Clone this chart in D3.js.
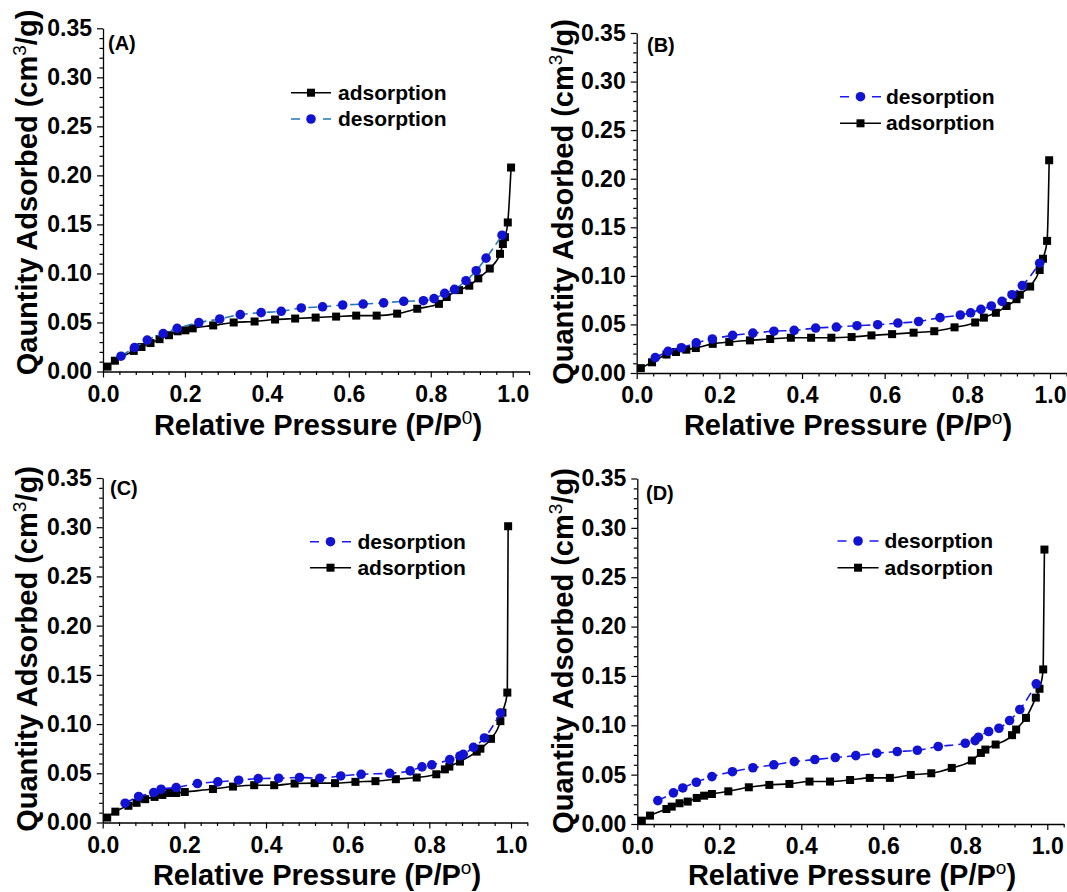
<!DOCTYPE html>
<html>
<head>
<meta charset="utf-8">
<script src="https://cdn.jsdelivr.net/npm/d3@7/dist/d3.min.js"></script>
<style>
  html, body { margin: 0; padding: 0; background: #fff; }
  svg { display: block; }
  text { font-family: "Liberation Sans", Arial, sans-serif; }
</style>
</head>
<body>
<svg id="chart" width="1067" height="892"></svg>
<script>
// ---------------- DATA ----------------
const xTicks = [0, 0.2, 0.4, 0.6, 0.8, 1.0];
const yTicks = [0, 0.05, 0.10, 0.15, 0.20, 0.25, 0.30, 0.35];
const panelLabels = ["(A)", "(B)", "(C)", "(D)"];
const yTitleA = "Qauntity Adsorbed (cm";
const yTitleOther = "Quantity Adsorbed (cm";
const seriesNames = ["adsorption", "desorption"];

const adsA = [[0.011,0.005],[0.029,0.011],[0.075,0.021],[0.094,0.025],[0.116,0.029],[0.138,0.033],[0.161,0.037],[0.182,0.041],[0.201,0.042],[0.219,0.044],[0.269,0.047],[0.319,0.050],[0.370,0.051],[0.420,0.053],[0.469,0.054],[0.519,0.055],[0.569,0.056],[0.618,0.057],[0.668,0.057],[0.718,0.059],[0.767,0.064],[0.820,0.069],[0.839,0.076],[0.869,0.083],[0.894,0.0875],[0.916,0.095],[0.944,0.105],[0.969,0.120],[0.976,0.130],[0.981,0.137],[0.988,0.152],[0.996,0.208]];
const desA = [[0.044,0.0156],[0.077,0.0244],[0.108,0.032],[0.147,0.0387],[0.181,0.044],[0.234,0.0499],[0.285,0.0536],[0.335,0.058],[0.386,0.060],[0.435,0.0614],[0.484,0.0648],[0.536,0.066],[0.585,0.0678],[0.635,0.0688],[0.685,0.070],[0.734,0.0716],[0.782,0.0722],[0.808,0.0743],[0.834,0.0797],[0.858,0.0838],[0.886,0.0926],[0.911,0.1028],[0.935,0.1156],[0.974,0.139]];

const adsB = [[0.010,0.005],[0.037,0.011],[0.072,0.019],[0.095,0.0216],[0.120,0.024],[0.143,0.0257],[0.184,0.030],[0.224,0.032],[0.274,0.0336],[0.323,0.035],[0.373,0.0363],[0.422,0.0363],[0.471,0.0363],[0.520,0.037],[0.568,0.0387],[0.618,0.040],[0.670,0.0415],[0.720,0.043],[0.769,0.047],[0.819,0.052],[0.840,0.057],[0.869,0.062],[0.895,0.069],[0.919,0.076],[0.927,0.0806],[0.952,0.089],[0.975,0.106],[0.983,0.1176],[0.993,0.136],[0.998,0.219]];
const desB = [[0.045,0.0158],[0.076,0.0223],[0.108,0.026],[0.144,0.031],[0.183,0.035],[0.232,0.0387],[0.281,0.041],[0.332,0.043],[0.381,0.0439],[0.433,0.0463],[0.483,0.0473],[0.533,0.0487],[0.583,0.0497],[0.632,0.0514],[0.682,0.053],[0.734,0.057],[0.783,0.0597],[0.808,0.062],[0.833,0.0655],[0.858,0.069],[0.884,0.0737],[0.908,0.0806],[0.933,0.090],[0.975,0.113]];

const adsC = [[0.011,0.005],[0.031,0.011],[0.063,0.017],[0.083,0.020],[0.104,0.0237],[0.127,0.026],[0.146,0.028],[0.164,0.030],[0.180,0.030],[0.201,0.031],[0.270,0.034],[0.319,0.0365],[0.371,0.0379],[0.420,0.0379],[0.470,0.0396],[0.519,0.040],[0.569,0.040],[0.619,0.0413],[0.668,0.042],[0.718,0.044],[0.769,0.0457],[0.817,0.049],[0.838,0.054],[0.849,0.0568],[0.875,0.0619],[0.916,0.072],[0.925,0.075],[0.951,0.085],[0.974,0.103],[0.979,0.1116],[0.991,0.132],[0.993,0.301]];
const desC = [[0.055,0.0196],[0.088,0.0264],[0.125,0.0304],[0.143,0.0338],[0.180,0.0355],[0.232,0.0396],[0.282,0.0413],[0.333,0.043],[0.381,0.0446],[0.431,0.045],[0.482,0.0457],[0.532,0.045],[0.583,0.0473],[0.633,0.049],[0.703,0.050],[0.753,0.0524],[0.782,0.0565],[0.806,0.0585],[0.850,0.0639],[0.875,0.0676],[0.883,0.0693],[0.908,0.0764],[0.935,0.0859],[0.974,0.1113]];

const adsD = [[0.011,0.0034],[0.031,0.0085],[0.071,0.0152],[0.084,0.0176],[0.103,0.021],[0.123,0.0227],[0.145,0.0264],[0.163,0.0287],[0.182,0.0304],[0.222,0.0331],[0.272,0.0372],[0.322,0.0396],[0.371,0.0406],[0.420,0.043],[0.470,0.043],[0.519,0.0446],[0.567,0.0467],[0.616,0.0467],[0.667,0.0497],[0.717,0.0514],[0.767,0.0568],[0.816,0.0643],[0.838,0.072],[0.849,0.0754],[0.874,0.0805],[0.914,0.090],[0.924,0.0957],[0.948,0.1075],[0.972,0.128],[0.981,0.137],[0.990,0.1566],[0.993,0.278]];
const desD = [[0.050,0.0237],[0.088,0.0315],[0.111,0.0365],[0.144,0.0423],[0.182,0.048],[0.232,0.053],[0.282,0.057],[0.333,0.060],[0.383,0.0632],[0.433,0.0653],[0.483,0.0673],[0.533,0.0693],[0.584,0.0717],[0.634,0.0734],[0.683,0.0747],[0.734,0.0785],[0.800,0.0818],[0.824,0.0845],[0.832,0.0879],[0.857,0.0937],[0.882,0.097],[0.908,0.1048],[0.933,0.116],[0.973,0.142]];

// ---------------- LAYOUT ----------------
const panels = [
  {label: panelLabels[0], ads: adsA, des: desA, yTitle: yTitleA, xSup: "0",
   x0: 103, x1: 512.7, yb: 371.5, yt: 28.3, lab: [108, 50],
   ytx: 37, yty: 192.5, xtx: 318, xty: 435,
   leg: {lx0: 291, lx1: 331, tx: 338, rows: [92.7, 119], order: ["ads","des"]}, desLine: "#1f78b4"},
  {label: panelLabels[1], ads: adsB, des: desB, yTitle: yTitleOther, xSup: "o",
   x0: 636.7, x1: 1050, yb: 373, yt: 33, lab: [647, 52],
   ytx: 573, yty: 202, xtx: 848, xty: 435,
   leg: {lx0: 840, lx1: 881, tx: 886, rows: [96.7, 123.3], order: ["des","ads"]}, desLine: "#1a1aee"},
  {label: panelLabels[2], ads: adsC, des: desC, yTitle: yTitleOther, xSup: "o",
   x0: 102.7, x1: 511, yb: 822.5, yt: 478, lab: [110, 495],
   ytx: 36.5, yty: 649, xtx: 317, xty: 885,
   leg: {lx0: 310, lx1: 351, tx: 357.4, rows: [541.7, 567.7], order: ["des","ads"]}, desLine: "#1a1aee"},
  {label: panelLabels[3], ads: adsD, des: desD, yTitle: yTitleOther, xSup: "o",
   x0: 637.3, x1: 1047.3, yb: 824, yt: 478.5, lab: [646, 500],
   ytx: 573, yty: 651, xtx: 852, xty: 885,
   leg: {lx0: 837.5, lx1: 878.6, tx: 884.5, rows: [541, 567.7], order: ["des","ads"]}, desLine: "#1a1aee"}
];

const svg = d3.select("#chart");
const FONT = "'Liberation Sans', Arial, sans-serif";
const circleFill = "#1212d2";
const sq = 8, cr = 4.8;

panels.forEach(p => {
  const xMax = 1.04;
  const x = d3.scaleLinear().domain([0, xMax]).range([p.x0, p.x0 + (p.x1 - p.x0) * xMax]);
  const y = d3.scaleLinear().domain([0, 0.35]).range([p.yb, p.yt]);
  const g = svg.append("g");

  const xMinor = d3.range(0, 27).map(i => i * 0.04).filter(v => !xTicks.some(t => Math.abs(t - v) < 1e-6));
  const yMinor = d3.range(0, 36).map(i => i * 0.01).filter(v => !yTicks.some(t => Math.abs(t - v) < 1e-6));

  const xAxis = d3.axisBottom(x).tickValues(xTicks).tickFormat(d3.format(".1f")).tickSize(6).tickSizeOuter(0).tickPadding(8);
  const xAxisMinor = d3.axisBottom(x).tickValues(xMinor).tickFormat("").tickSize(3.5).tickSizeOuter(0);
  const yAxis = d3.axisLeft(y).tickValues(yTicks).tickFormat(d3.format(".2f")).tickSize(6).tickSizeOuter(0).tickPadding(5);
  const yAxisMinor = d3.axisLeft(y).tickValues(yMinor).tickFormat("").tickSize(3.5).tickSizeOuter(0);

  const gx = g.append("g").attr("transform", `translate(0,${p.yb})`).call(xAxis);
  g.append("g").attr("transform", `translate(0,${p.yb})`).call(xAxisMinor).select(".domain").remove();
  const gy = g.append("g").attr("transform", `translate(${p.x0},0)`).call(yAxis);
  g.append("g").attr("transform", `translate(${p.x0},0)`).call(yAxisMinor).select(".domain").remove();

  [gx, gy].forEach(a => {
    a.selectAll("text").attr("font-family", FONT).attr("font-weight", "bold").attr("font-size", 23).attr("fill", "#000");
    a.selectAll("line, path").attr("stroke", "#000").attr("stroke-width", 1.3);
  });
  g.selectAll(".tick line").attr("stroke", "#000").attr("stroke-width", 1.2);

  const lineGen = d3.line().x(d => x(d[0])).y(d => y(d[1])).curve(d3.curveMonotoneX);

  g.append("path").datum(p.ads).attr("d", lineGen).attr("fill", "none").attr("stroke", "#000").attr("stroke-width", 1.6);
  g.selectAll(".sq").data(p.ads).enter().append("rect")
    .attr("x", d => x(d[0]) - sq / 2).attr("y", d => y(d[1]) - sq / 2)
    .attr("width", sq).attr("height", sq).attr("fill", "#000");

  g.append("path").datum(p.des).attr("d", lineGen).attr("fill", "none").attr("stroke", p.desLine)
    .attr("stroke-width", 1.6).attr("stroke-dasharray", "9,5");
  g.selectAll(".ci").data(p.des).enter().append("circle")
    .attr("cx", d => x(d[0])).attr("cy", d => y(d[1])).attr("r", cr).attr("fill", circleFill);

  g.append("text").attr("x", p.lab[0]).attr("y", p.lab[1]).text(p.label)
    .attr("font-family", FONT).attr("font-weight", "bold").attr("font-size", 20);

  p.leg.order.forEach((k, i) => {
    const cy = p.leg.rows[i];
    const mx = (p.leg.lx0 + p.leg.lx1) / 2;
    if (k === "ads") {
      g.append("line").attr("x1", p.leg.lx0).attr("x2", p.leg.lx1).attr("y1", cy).attr("y2", cy)
        .attr("stroke", "#000").attr("stroke-width", 1.6);
      g.append("rect").attr("x", mx - sq / 2).attr("y", cy - sq / 2).attr("width", sq).attr("height", sq).attr("fill", "#000");
      g.append("text").attr("x", p.leg.tx).attr("y", cy).attr("dy", "0.33em").text(seriesNames[0])
        .attr("font-family", FONT).attr("font-weight", "bold").attr("font-size", 21);
    } else {
      g.append("line").attr("x1", p.leg.lx0).attr("x2", p.leg.lx1).attr("y1", cy).attr("y2", cy)
        .attr("stroke", p.desLine).attr("stroke-width", 1.6).attr("stroke-dasharray", "9,23");
      g.append("circle").attr("cx", mx).attr("cy", cy).attr("r", cr).attr("fill", circleFill);
      g.append("text").attr("x", p.leg.tx).attr("y", cy).attr("dy", "0.33em").text(seriesNames[1])
        .attr("font-family", FONT).attr("font-weight", "bold").attr("font-size", 21);
    }
  });

  const yt = g.append("text").attr("transform", `translate(${p.ytx},${p.yty}) rotate(-90)`)
    .attr("text-anchor", "middle").attr("font-family", FONT).attr("font-weight", "bold").attr("font-size", 29);
  yt.append("tspan").text(p.yTitle);
  yt.append("tspan").text("3").attr("font-weight", "normal").attr("font-size", 19).attr("dy", -11);
  yt.append("tspan").text("/g)").attr("dy", 11);

  const xt = g.append("text").attr("x", p.xtx).attr("y", p.xty)
    .attr("text-anchor", "middle").attr("font-family", FONT).attr("font-weight", "bold").attr("font-size", 29);
  xt.append("tspan").text("Relative Pressure (P/P");
  xt.append("tspan").text(p.xSup).attr("font-weight", "normal").attr("font-size", 19).attr("dy", -11);
  xt.append("tspan").text(")").attr("dy", 11);
});
</script>
</body>
</html>
